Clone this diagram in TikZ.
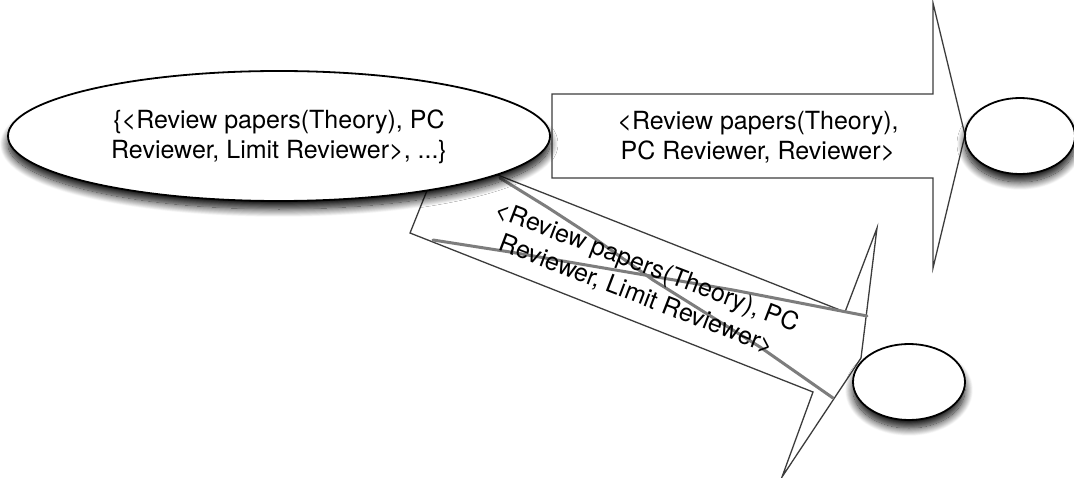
\documentclass[tikz,border=0pt]{standalone}
\usepackage{fontspec}
\setmainfont{TeX Gyre Heros}
\usetikzlibrary{shapes.geometric,shadows.blur}

\definecolor{arrowline}{RGB}{60,60,60}
\definecolor{sketchgray}{RGB}{125,125,125}

\tikzset{
  state/.style={ellipse, draw=black, line width=1.8pt, fill=white, inner sep=0pt,
    blur shadow={shadow xshift=0pt, shadow yshift=-8pt, shadow blur radius=8pt,
      shadow blur steps=16, shadow opacity=95}},
  blockarrow/.style={draw=arrowline, line width=1.3pt, line join=miter, fill=white},
  sketchline/.style={draw=sketchgray, line width=3pt, line cap=round, line join=round},
  lbl/.style={font=\fontsize{25}{30}\selectfont, align=center, text=black, inner sep=0pt}
}

\begin{document}
\begin{tikzpicture}[x=1pt,y=-1pt]
\useasboundingbox (0,0) rectangle (1074,478);

% outline points of the two block arrows
\coordinate (rA) at (552,94);
\coordinate (rB) at (933,94);
\coordinate (rC) at (933,3);
\coordinate (rTip) at (965,135);
\coordinate (rD) at (933,268);
\coordinate (rE) at (933,178);
\coordinate (rF) at (552,178);

\coordinate (lA) at (442,153);
\coordinate (lB) at (845,312);
\coordinate (lC) at (877,228);
\coordinate (lTip) at (861,358);
\coordinate (lD) at (782,477);
\coordinate (lE) at (813,392);
\coordinate (lF) at (410,233);

% block arrows
\draw[blockarrow] (rA) -- (rB) -- (rC) -- (rTip) -- (rD) -- (rE) -- (rF) -- cycle;
\draw[blockarrow] (lA) -- (lB) -- (lC) -- (lTip) -- (lD) -- (lE) -- (lF) -- cycle;

% second, rougher stroke of the lower arrow
\draw[sketchline] (500,178) -- (547,207) -- (587,233) -- (653,280) -- (760,347) -- (833,398);
\draw[sketchline] (433,240) -- (510,252) -- (633,273) -- (733,290) -- (867,316);

% states
\node[state, minimum width=542pt, minimum height=130pt] (src) at (279,136) {};
\node[state, minimum width=110pt, minimum height=76pt] (dstA) at (1020,136) {};
\node[state, minimum width=112pt, minimum height=76pt] (dstB) at (909,382) {};

% labels
\node[lbl] (srcText) at (279,137) {\{<Review papers(Theory), PC\\Reviewer, Limit Reviewer>, ...\}};
\node[lbl] (rText) at (758,137) {<Review papers(Theory),\\PC Reviewer, Reviewer>};
\node[lbl, rotate=-21] (lText) at (642,281) {<Review papers(Theory), PC\\Reviewer, Limit Reviewer>};
\end{tikzpicture}
\end{document}
